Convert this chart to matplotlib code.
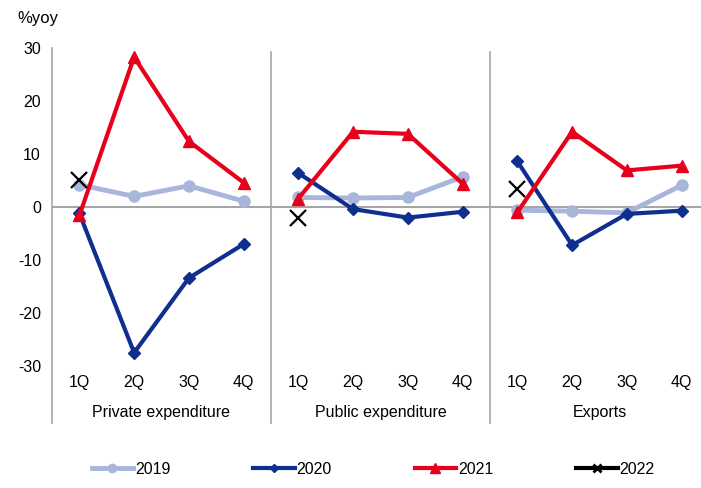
import numpy as np
import matplotlib
matplotlib.use("Agg")
import matplotlib.pyplot as plt
from matplotlib.lines import Line2D

plt.rcParams['font.family'] = ['Liberation Sans', 'DejaVu Sans']

groups = ["Private expenditure", "Public expenditure", "Exports"]
quarters = ["1Q", "2Q", "3Q", "4Q"]

# %yoy, one list of 4 quarters per group
y2019 = [[4.2, 2.0, 4.0, 1.1], [1.8, 1.7, 1.8, 5.7], [-0.6, -0.8, -1.1, 4.1]]
y2020 = [[-1.2, -27.5, -13.4, -7.0], [6.4, -0.4, -2.0, -0.9], [8.6, -7.2, -1.3, -0.7]]
y2021 = [[-1.6, 28.3, 12.4, 4.6], [1.6, 14.2, 13.8, 4.4], [-1.0, 14.2, 6.9, 7.8]]
y2022 = [[5.1], [-2.1], [3.4]]

W, H = 701, 488
fig = plt.figure(figsize=(W / 100, H / 100), dpi=100)
left, right, top, bottom = 52, 709, 48, 366
ax = fig.add_axes([left / W, 1 - bottom / H, (right - left) / W, (bottom - top) / H])

series = [
    ("2019", y2019, "#A9B6DC", "o", 8, 3.5),
    ("2020", y2020, "#0F2F8F", "D", 6, 3.0),
    ("2021", y2021, "#E8001B", "^", 9, 3.0),
]
handles = []
for name, data, col, mk, ms, lw in series:
    for g, vals in enumerate(data):
        x = np.arange(len(vals)) + 4 * g
        ax.plot(x, vals, color=col, marker=mk, ms=ms, lw=lw, zorder=3)
    handles.append(Line2D([], [], color=col, marker=mk, ms=ms - 2, lw=lw, label=name))

for g, vals in enumerate(y2022):
    ax.plot(np.arange(len(vals)) + 4 * g, vals, color="black", marker="x",
            ms=11, mew=1.6, lw=3, ls="none", zorder=4)
handles.append(Line2D([], [], color="black", marker="x", ms=6, mew=2, lw=3, label="2022"))

ax.set_xlim(-0.5, 11.5)
ax.set_ylim(-30, 30)
ax.set_yticks([-30, -20, -10, 0, 10, 20, 30])
ax.set_yticklabels(["-30", "-20", "-10", "0", "10", "20", "30"])
ax.tick_params(axis="y", length=0, pad=8, labelsize=11.5)
ax.set_xticks([])
for s in ax.spines.values():
    s.set_visible(False)

ax.axhline(0, color="#A6A6A6", lw=1.5, zorder=1)

# vertical separators reaching down past the category labels
low = (bottom - 423) / (bottom - top)
ax.add_line(Line2D([0, 0], [low, 1.0], transform=ax.transAxes, color="#A6A6A6",
                   lw=1.2, clip_on=False))
for g in (1, 2):
    xs = (4 * g - 0.5 + 0.5) / 12
    ax.add_line(Line2D([xs, xs], [low, (bottom - 52) / (bottom - top)],
                       transform=ax.transAxes, color="#A6A6A6", lw=1.2, clip_on=False))

trans = ax.get_xaxis_transform()
qy = -(383 - bottom) / (bottom - top)
gy = -(413 - bottom) / (bottom - top)
for g, name in enumerate(groups):
    for q, lab in enumerate(quarters):
        ax.text(4 * g + q, qy, lab, transform=trans, ha="center", va="center", fontsize=11.5)
    ax.text(4 * g + 1.5, gy, name, transform=trans, ha="center", va="center", fontsize=11.5)

fig.text(17 / W, 1 - 18 / H, "%yoy", ha="left", va="center", fontsize=12)

fig.legend(handles=handles, loc="center", bbox_to_anchor=(373 / W, 1 - 469 / H), ncol=4,
           frameon=False, fontsize=11.5, handlelength=2.6, handletextpad=0.1,
           columnspacing=5.2)

fig.savefig("out.png", dpi=100)
